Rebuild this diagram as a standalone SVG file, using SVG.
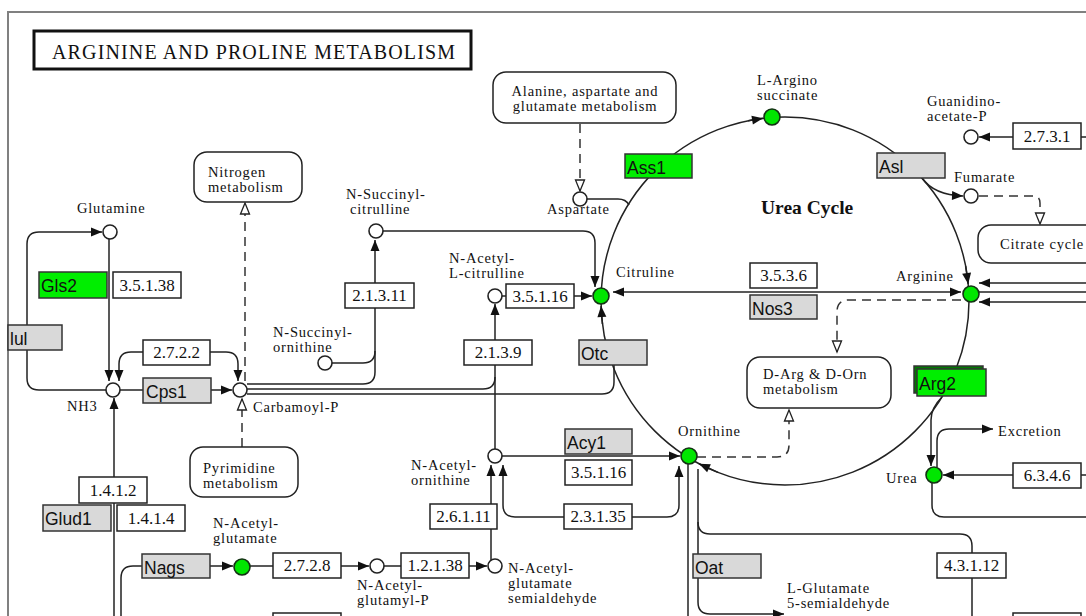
<svg xmlns="http://www.w3.org/2000/svg" width="1086" height="616" viewBox="0 0 1086 616">
<style>
.lbl{font-family:"Liberation Serif","Times New Roman",serif;font-size:14.5px;letter-spacing:0.8px;fill:#111}
.mid{text-anchor:middle}
.ec{font-family:"Liberation Serif","Times New Roman",serif;font-size:17px;fill:#111;text-anchor:middle}
.gn{font-family:"Liberation Sans",Arial,sans-serif;font-size:17.5px;fill:#111}
.box{fill:#fff;stroke:#222;stroke-width:1.5}
.gray{fill:#d9d9d9;stroke:#333;stroke-width:1.5}
.green{fill:#00ee00;stroke:#333;stroke-width:1.5}
.map{fill:#fff;stroke:#222;stroke-width:1.5}
.cpd{fill:#fff;stroke:#222;stroke-width:1.6}
.cpdg{fill:#00e600;stroke:#143214;stroke-width:1.6}
.ln{fill:none;stroke:#222;stroke-width:1.5}
.dash{fill:none;stroke:#333;stroke-width:1.5;stroke-dasharray:9,6}
</style>
<defs>
<marker id="a" markerUnits="userSpaceOnUse" markerWidth="12" markerHeight="10" refX="11" refY="5" orient="auto-start-reverse" overflow="visible"><path d="M0,0.5 L11,5 L0,9.5 z" fill="#111"/></marker>
<marker id="o" markerUnits="userSpaceOnUse" markerWidth="14" markerHeight="12" refX="12" refY="5.5" orient="auto" overflow="visible"><path d="M1,1 L12,5.5 L1,10 z" fill="#fff" stroke="#222" stroke-width="1.3"/></marker>
</defs>
<rect width="1086" height="616" fill="#fff"/>
<g id="frame">
<path d="M8,616 V12 H1086" fill="none" stroke="#808080" stroke-width="2"/>
</g>
<g id="title">
<rect x="34" y="31" width="437" height="38" fill="#fff" stroke="#111" stroke-width="3"/>
<text x="52" y="59" class="lbl" style="font-size:20px;letter-spacing:0" textLength="403" lengthAdjust="spacing">ARGININE AND PROLINE METABOLISM</text>
</g>
<g id="connectors">
<circle cx="785" cy="301" r="184" class="ln"/>
<path class="ln" d="M748,120.8 L763,118.3" marker-end="url(#a)"/>
<path class="ln" d="M965.6,266 L968.2,284" marker-end="url(#a)"/>
<path class="ln" d="M602.4,324 L601.1,306" marker-end="url(#a)"/>
<path class="ln" d="M718,472.4 L699,463.7" marker-end="url(#a)"/>
<path class="ln" d="M109,239 V381" marker-end="url(#a)"/>
<path class="ln" d="M143,352 H131 Q119,352 119,364 V381" marker-end="url(#a)"/>
<path class="ln" d="M210,352 H226 Q238,352 238,364 V381" marker-end="url(#a)"/>
<path class="ln" d="M120,390 H232" marker-end="url(#a)"/>
<path class="ln" d="M106,390 H39 Q27,390 27,378 V244 Q27,232 39,232 H102" marker-end="url(#a)"/>
<path class="ln" d="M114,616 V398" marker-end="url(#a)"/>
<path class="ln" d="M142,566 H133 Q121,566 121,578 V616"/>
<path class="ln" d="M210,566 H233" marker-end="url(#a)"/>
<path class="ln" d="M250,566 H273"/>
<path class="ln" d="M341,566 H369" marker-end="url(#a)"/>
<path class="ln" d="M384,566 H401"/>
<path class="ln" d="M469,566 H487" marker-end="url(#a)"/>
<path class="ln" d="M491,560 V465" marker-end="url(#a)"/>
<path class="ln" d="M564,517 H515 Q503,517 503,505 V465" marker-end="url(#a)"/>
<path class="ln" d="M632,517 H667 Q679,517 679,505 V466" marker-end="url(#a)"/>
<path class="ln" d="M502,456 H680" marker-end="url(#a)"/>
<path class="ln" d="M495,449 V304" marker-end="url(#a)"/>
<path class="ln" d="M247,389 H483 Q495,389 495,377"/>
<path class="ln" d="M247,384 H363 Q375,384 375,372 V240" marker-end="url(#a)"/>
<path class="ln" d="M332,363 H363 Q375,363 375,351"/>
<path class="ln" d="M247,394 H602 Q614,394 614,382 V365"/>
<path class="ln" d="M383,231 H583 Q595,231 595,243 V287" marker-end="url(#a)"/>
<path class="ln" d="M502,296 H592" marker-end="url(#a)"/>
<path class="ln" d="M613,292 H961" marker-start="url(#a)" marker-end="url(#a)"/>
<path class="dash" d="M961,300 H849 Q837,300 837,312 V352" marker-end="url(#o)"/>
<path class="ln" d="M1086,283 H979" marker-end="url(#a)"/>
<path class="ln" d="M1086,302 H979" marker-end="url(#a)"/>
<path class="ln" d="M979,292 H1086"/>
<path class="ln" d="M922,178 Q934,195 963,196" marker-end="url(#a)"/>
<path class="dash" d="M979,196 H1033 Q1040,196 1040,203 V224" marker-end="url(#o)"/>
<path class="ln" d="M1086,137 H979" marker-end="url(#a)"/>
<path class="dash" d="M580,124 V191" marker-end="url(#o)"/>
<path class="ln" d="M587,199 H618 Q626,199 629,205"/>
<path class="dash" d="M245,381 V203" marker-end="url(#o)"/>
<path class="dash" d="M242,447 V399" marker-end="url(#o)"/>
<path class="dash" d="M697,457 H777 Q789,457 789,445 V410" marker-end="url(#o)"/>
<path class="ln" d="M942,397 Q931,408 931,420 V466" marker-end="url(#a)"/>
<path class="ln" d="M1086,475 H943" marker-end="url(#a)"/>
<path class="ln" d="M937,467 V441 Q937,429 949,429 H993" marker-end="url(#a)"/>
<path class="ln" d="M932,483 V505 Q932,517 944,517 H1086"/>
<path class="ln" d="M688,464 V616"/>
<path class="ln" d="M698,469 V602 Q698,614 710,614 H784" marker-end="url(#a)"/>
<path class="ln" d="M698,522 Q698,534 710,534 H960 Q972,534 972,546 V616"/>
</g>
<g id="map-alanine"><rect class="map" x="493" y="72" width="183" height="51" rx="13"/><text class="lbl mid" x="585" y="96">Alanine, aspartate and</text><text class="lbl mid" x="585" y="111">glutamate metabolism</text></g>
<g id="map-nitrogen"><rect class="map" x="194" y="152" width="108" height="50" rx="13"/><text class="lbl" x="208" y="177">Nitrogen</text><text class="lbl" x="208" y="192">metabolism</text></g>
<g id="map-citrate"><rect class="map" x="978" y="225" width="130" height="38" rx="13"/><text class="lbl" x="1000" y="249">Citrate cycle</text></g>
<g id="map-darg"><rect class="map" x="747" y="357" width="144" height="51" rx="13"/><text class="lbl" x="763" y="379">D-Arg &amp; D-Orn</text><text class="lbl" x="763" y="394">metabolism</text></g>
<g id="map-pyrimidine"><rect class="map" x="190" y="447" width="108" height="50" rx="13"/><text class="lbl" x="203" y="473">Pyrimidine</text><text class="lbl" x="203" y="488">metabolism</text></g>
<g id="urea-cycle-label"><text class="lbl" x="761" y="214" style="font-weight:bold;font-size:19.5px;letter-spacing:0">Urea Cycle</text></g>
<g id="ec-3.5.1.38"><rect class="box" x="113" y="272" width="68" height="26"/><text class="ec" x="147" y="291">3.5.1.38</text></g>
<g id="ec-2.7.2.2"><rect class="box" x="143" y="340" width="67" height="25"/><text class="ec" x="176.5" y="358">2.7.2.2</text></g>
<g id="ec-2.1.3.11"><rect class="box" x="345" y="283" width="69" height="25"/><text class="ec" x="379.5" y="301">2.1.3.11</text></g>
<g id="ec-3.5.1.16a"><rect class="box" x="506" y="284" width="68" height="24"/><text class="ec" x="540" y="302">3.5.1.16</text></g>
<g id="ec-2.1.3.9"><rect class="box" x="464" y="340" width="68" height="25"/><text class="ec" x="498" y="358">2.1.3.9</text></g>
<g id="ec-3.5.3.6"><rect class="box" x="750" y="263" width="67" height="25"/><text class="ec" x="783.5" y="281">3.5.3.6</text></g>
<g id="ec-2.7.3.1"><rect class="box" x="1013" y="123" width="68" height="26"/><text class="ec" x="1047" y="142">2.7.3.1</text></g>
<g id="ec-1.4.1.2"><rect class="box" x="79" y="477" width="68" height="26"/><text class="ec" x="113" y="496">1.4.1.2</text></g>
<g id="ec-1.4.1.4"><rect class="box" x="117" y="505" width="68" height="26"/><text class="ec" x="151" y="524">1.4.1.4</text></g>
<g id="ec-2.7.2.8"><rect class="box" x="273" y="553" width="68" height="25"/><text class="ec" x="307" y="571">2.7.2.8</text></g>
<g id="ec-1.2.1.38"><rect class="box" x="401" y="553" width="68" height="25"/><text class="ec" x="435" y="571">1.2.1.38</text></g>
<g id="ec-2.6.1.11"><rect class="box" x="430" y="504" width="67" height="25"/><text class="ec" x="463.5" y="522">2.6.1.11</text></g>
<g id="ec-3.5.1.16b"><rect class="box" x="565" y="460" width="67" height="25"/><text class="ec" x="598.5" y="478">3.5.1.16</text></g>
<g id="ec-2.3.1.35"><rect class="box" x="564" y="504" width="68" height="25"/><text class="ec" x="598" y="522">2.3.1.35</text></g>
<g id="ec-6.3.4.6"><rect class="box" x="1013" y="463" width="68" height="25"/><text class="ec" x="1047" y="481">6.3.4.6</text></g>
<g id="ec-4.3.1.12"><rect class="box" x="937" y="553" width="69" height="25"/><text class="ec" x="971.5" y="571">4.3.1.12</text></g>
<g id="ec-bottom-left"><rect class="box" x="273" y="613" width="68" height="20"/></g>
<g id="ec-bottom-right"><rect class="box" x="1013" y="613" width="68" height="20"/></g>
<g id="gene-glul"><rect class="gray" x="8" y="325" width="54" height="25"/><text class="gn" x="10" y="345">lul</text></g>
<g id="gene-cps1"><rect class="gray" x="143" y="378" width="68" height="25"/><text class="gn" x="146" y="398">Cps1</text></g>
<g id="gene-otc"><rect class="gray" x="579" y="340" width="68" height="25"/><text class="gn" x="581" y="360">Otc</text></g>
<g id="gene-nos3"><rect class="gray" x="750" y="295" width="67" height="24"/><text class="gn" x="752" y="315">Nos3</text></g>
<g id="gene-asl"><rect class="gray" x="877" y="153" width="68" height="25"/><text class="gn" x="879" y="173">Asl</text></g>
<g id="gene-acy1"><rect class="gray" x="565" y="429" width="67" height="25"/><text class="gn" x="567" y="449">Acy1</text></g>
<g id="gene-glud1"><rect class="gray" x="43" y="505" width="68" height="26"/><text class="gn" x="45" y="525">Glud1</text></g>
<g id="gene-nags"><rect class="gray" x="142" y="554" width="68" height="24"/><text class="gn" x="144" y="574">Nags</text></g>
<g id="gene-oat"><rect class="gray" x="693" y="554" width="68" height="24"/><text class="gn" x="695" y="574">Oat</text></g>
<g id="gene-gls2"><rect class="green" x="39" y="272" width="68" height="26"/><text class="gn" x="41" y="292">Gls2</text></g>
<g id="gene-ass1"><rect class="green" x="625" y="154" width="67" height="24"/><text class="gn" x="627" y="174">Ass1</text></g>
<g id="gene-arg2"><rect class="green" x="914" y="366" width="69" height="27" style="fill:#007a00"/><rect class="green" x="917" y="369" width="69" height="27"/><text class="gn" x="919" y="390">Arg2</text></g>
<g id="c-glutamine"><circle class="cpd" cx="110" cy="232" r="7"/><text class="lbl" x="77" y="213">Glutamine</text></g>
<g id="c-nh3"><circle class="cpd" cx="113" cy="390" r="7"/><text class="lbl" x="67" y="411">NH3</text></g>
<g id="c-carbamoyl-p"><circle class="cpd" cx="240" cy="390" r="7"/><text class="lbl" x="253" y="412">Carbamoyl-P</text></g>
<g id="c-n-succinyl-ornithine"><circle class="cpd" cx="325" cy="363" r="7"/><text class="lbl" x="273" y="337">N-Succinyl-</text><text class="lbl" x="273" y="352">ornithine</text></g>
<g id="c-n-succinyl-citrulline"><circle class="cpd" cx="376" cy="231" r="7"/><text class="lbl" x="346" y="199">N-Succinyl-</text><text class="lbl" x="350" y="214">citrulline</text></g>
<g id="c-n-acetyl-citrulline"><circle class="cpd" cx="495" cy="296" r="7"/><text class="lbl" x="449" y="263">N-Acetyl-</text><text class="lbl" x="449" y="278">L-citrulline</text></g>
<g id="c-aspartate"><circle class="cpd" cx="580" cy="199" r="7"/><text class="lbl" x="547" y="214">Aspartate</text></g>
<g id="c-citruline"><circle class="cpdg" cx="601" cy="296" r="8"/><text class="lbl" x="616" y="277">Citruline</text></g>
<g id="c-arginosuccinate"><circle class="cpdg" cx="772" cy="117" r="8"/><text class="lbl" x="757" y="85">L-Argino</text><text class="lbl" x="757" y="100">succinate</text></g>
<g id="c-guanidinoacetate-p"><circle class="cpd" cx="971" cy="137" r="7"/><text class="lbl" x="927" y="106">Guanidino-</text><text class="lbl" x="927" y="121">acetate-P</text></g>
<g id="c-fumarate"><circle class="cpd" cx="971" cy="196" r="7"/><text class="lbl" x="954" y="182">Fumarate</text></g>
<g id="c-arginine"><circle class="cpdg" cx="971" cy="294" r="8"/><text class="lbl" x="896" y="281">Arginine</text></g>
<g id="c-ornithine"><circle class="cpdg" cx="689" cy="456" r="8"/><text class="lbl" x="678" y="436">Ornithine</text></g>
<g id="c-n-acetyl-ornithine"><circle class="cpd" cx="495" cy="456" r="7"/><text class="lbl" x="411" y="470">N-Acetyl-</text><text class="lbl" x="411" y="485">ornithine</text></g>
<g id="c-urea"><circle class="cpdg" cx="934" cy="475" r="8"/><text class="lbl" x="886" y="483">Urea</text></g>
<g id="c-excretion"><text class="lbl" x="998" y="436">Excretion</text></g>
<g id="c-n-acetyl-glutamate"><circle class="cpdg" cx="242" cy="567" r="8"/><text class="lbl" x="213" y="528">N-Acetyl-</text><text class="lbl" x="213" y="543">glutamate</text></g>
<g id="c-n-acetyl-glutamyl-p"><circle class="cpd" cx="377" cy="566" r="7"/><text class="lbl" x="357" y="590">N-Acetyl-</text><text class="lbl" x="357" y="605">glutamyl-P</text></g>
<g id="c-n-acetyl-glutamate-semialdehyde"><circle class="cpd" cx="495" cy="566" r="7"/><text class="lbl" x="508" y="573">N-Acetyl-</text><text class="lbl" x="508" y="588">glutamate</text><text class="lbl" x="508" y="603">semialdehyde</text></g>
<g id="c-l-glutamate-semialdehyde"><text class="lbl" x="787" y="593">L-Glutamate</text><text class="lbl" x="787" y="608">5-semialdehyde</text></g>
</svg>
